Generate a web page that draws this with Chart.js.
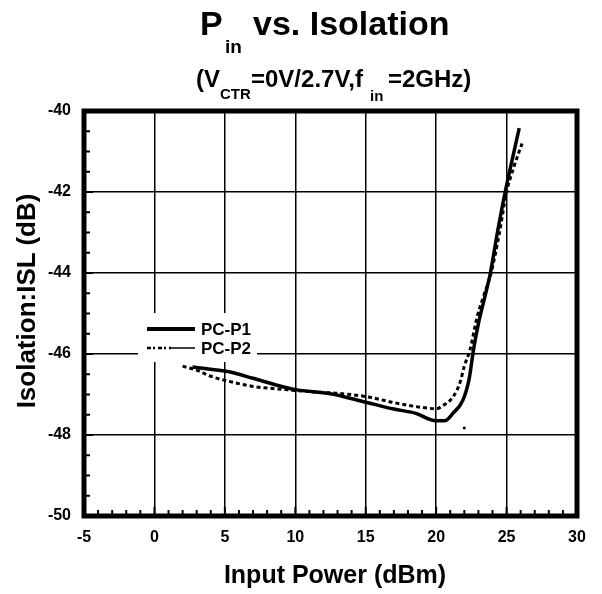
<!DOCTYPE html>
<html>
<head>
<meta charset="utf-8">
<script src="https://cdn.jsdelivr.net/npm/chart.js@4.4.1/dist/chart.umd.min.js"></script>
<style>
  html, body { margin: 0; padding: 0; background: #fff; }
  #wrap { position: relative; width: 602px; height: 594px; }
  #plot { position: absolute; left: 0; top: 0; }
  .t { position: absolute; font-family: "Liberation Sans", Arial, sans-serif; font-weight: bold; color: #000; white-space: nowrap; }
  .big { font-size: 34px; line-height: 34px; top: 6px; }
  .sub1 { font-size: 19px; line-height: 19px; top: 37px; }
  .mid { font-size: 24px; line-height: 24px; top: 67px; }
  .sub2 { font-size: 15px; line-height: 15px; }
  #ytitle { left: -124px; top: 288px; width: 300px; text-align: center; font-size: 26px; line-height: 26px; transform: rotate(-90deg); }
  #xtitle { left: 135px; top: 562px; width: 400px; text-align: center; font-size: 25px; line-height: 25px; }
</style>
</head>
<body>
<div id="wrap">
  <canvas id="plot" width="602" height="594"></canvas>
  <span class="t big" style="left:200px">P</span>
  <span class="t sub1" style="left:225px">in</span>
  <span class="t big" style="left:253px">vs. Isolation</span>
  <span class="t mid" style="left:196px">(V</span>
  <span class="t sub2" style="left:220px;top:86px">CTR</span>
  <span class="t mid" style="left:251px">=0V/2.7V,f</span>
  <span class="t sub2" style="left:370px;top:88px">in</span>
  <span class="t mid" style="left:388px">=2GHz)</span>
  <div class="t" id="ytitle">Isolation:ISL (dB)</div>
  <div class="t" id="xtitle">Input Power (dBm)</div>
</div>
<script>
// series (x = input power dBm, y = isolation dB)
const p1X = [2.7, 5.3, 7.0, 8.7, 10.0, 12.5, 15.0, 17.0, 18.5, 20.0, 20.6, 21.2, 21.9, 22.35, 22.65, 23.0, 23.45, 23.85, 24.35, 24.9, 25.4, 25.9];
const p1Y = [-46.32, -46.44, -46.6, -46.77, -46.88, -46.98, -47.19, -47.36, -47.46, -47.65, -47.65, -47.46, -47.14, -46.6, -45.9, -45.25, -44.6, -44.0, -43.0, -42.0, -41.2, -40.42];
const p2X = [2.0, 3.0, 4.0, 5.0, 7.0, 9.0, 10.0, 12.0, 13.0, 15.0, 17.0, 19.0, 20.0, 20.5, 21.2, 21.7, 22.0, 22.4, 22.9, 23.3, 23.9, 24.5, 25.0, 25.5, 26.1];
const p2Y = [-46.3, -46.4, -46.55, -46.65, -46.8, -46.87, -46.9, -46.95, -46.97, -47.05, -47.2, -47.32, -47.35, -47.27, -47.06, -46.7, -46.3, -45.9, -45.1, -44.64, -44.0, -43.0, -42.0, -41.4, -40.8];
const strayX = [22.0];
const strayY = [-47.83];
const seriesNames = ["PC-P1", "PC-P2"];
const xTicks = [-5, 30, 5];
const yTicks = [-50, -40, 2];

const FONT = "'Liberation Sans', Arial, sans-serif";

function pts(xs, ys) {
  return xs.map((x, i) => ({ x: x, y: ys[i] }));
}

// thick frame, inward minor/major ticks and the legend box
const framePlugin = {
  id: "frame",
  afterDraw(chart) {
    const { ctx, chartArea: a, scales } = chart;
    const xs = scales.x, ys = scales.y;
    ctx.save();
    ctx.strokeStyle = "#000";
    ctx.fillStyle = "#000";
    ctx.lineWidth = 2;
    for (let v = xTicks[0]; v <= xTicks[1]; v += 1) {
      const px = xs.getPixelForValue(v);
      const len = v % 5 === 0 ? 9 : 6;
      ctx.beginPath();
      ctx.moveTo(px, a.bottom);
      ctx.lineTo(px, a.bottom - len);
      ctx.stroke();
    }
    for (let v = yTicks[0]; v <= yTicks[1]; v += 0.5) {
      const py = ys.getPixelForValue(v);
      const len = v % 2 === 0 ? 9 : 6;
      ctx.beginPath();
      ctx.moveTo(a.left, py);
      ctx.lineTo(a.left + len, py);
      ctx.stroke();
    }
    ctx.lineWidth = 5;
    ctx.strokeRect(a.left, a.top, a.right - a.left, a.bottom - a.top);

    // legend
    const lx = a.left + 54, ly = a.top + 202;
    ctx.fillStyle = "#fff";
    ctx.fillRect(lx, ly, 119, 49);
    ctx.fillStyle = "#000";
    ctx.font = "bold 17px " + FONT;
    ctx.textBaseline = "middle";
    const r1 = ly + 16, r2 = ly + 35;
    ctx.lineWidth = 4;
    ctx.beginPath();
    ctx.moveTo(lx + 9, r1);
    ctx.lineTo(lx + 57, r1);
    ctx.stroke();
    ctx.lineWidth = 2.5;
    ctx.setLineDash([4, 2, 2, 3]);
    ctx.beginPath();
    ctx.moveTo(lx + 9, r2);
    ctx.lineTo(lx + 33, r2);
    ctx.stroke();
    ctx.setLineDash([]);
    ctx.lineWidth = 1.5;
    ctx.beginPath();
    ctx.moveTo(lx + 33, r2);
    ctx.lineTo(lx + 57, r2);
    ctx.stroke();
    ctx.fillText(seriesNames[0], lx + 63, r1 + 1);
    ctx.fillText(seriesNames[1], lx + 63, r2 + 1);
    ctx.restore();
  }
};

const ctx = document.getElementById("plot");

new Chart(ctx, {
  type: "scatter",
  data: {
    datasets: [
      {
        label: seriesNames[0],
        data: pts(p1X, p1Y),
        showLine: true,
        borderColor: "#000",
        borderWidth: 3.5,
        pointRadius: 0,
        cubicInterpolationMode: "monotone",
      },
      {
        label: seriesNames[1],
        data: pts(p2X, p2Y),
        showLine: true,
        borderColor: "#000",
        borderWidth: 3,
        borderDash: [4, 3],
        pointRadius: 0,
        cubicInterpolationMode: "monotone",
      },
      {
        label: "",
        data: pts(strayX, strayY),
        backgroundColor: "#000",
        borderWidth: 0,
        pointRadius: 1.5,
      },
    ],
  },
  options: {
    responsive: false,
    animation: false,
    layout: { padding: { left: 0, right: 25, top: 111, bottom: 0 } },
    plugins: { legend: { display: false }, tooltip: { enabled: false } },
    scales: {
      x: {
        type: "linear",
        min: xTicks[0],
        max: xTicks[1],
        afterFit: (s) => { s.height = 78; },
        ticks: { stepSize: xTicks[2], color: "#000", padding: 12, font: { family: FONT, weight: "bold", size: 16 } },
        grid: { color: "#000", lineWidth: 1.5, drawTicks: false },
        border: { display: false },
      },
      y: {
        type: "linear",
        min: yTicks[0],
        max: yTicks[1],
        afterFit: (s) => { s.width = 84; },
        ticks: { stepSize: yTicks[2], color: "#000", padding: 13, font: { family: FONT, weight: "bold", size: 16 } },
        grid: { color: "#000", lineWidth: 1.5, drawTicks: false },
        border: { display: false },
      },
    },
  },
  plugins: [framePlugin],
});
</script>
</body>
</html>
